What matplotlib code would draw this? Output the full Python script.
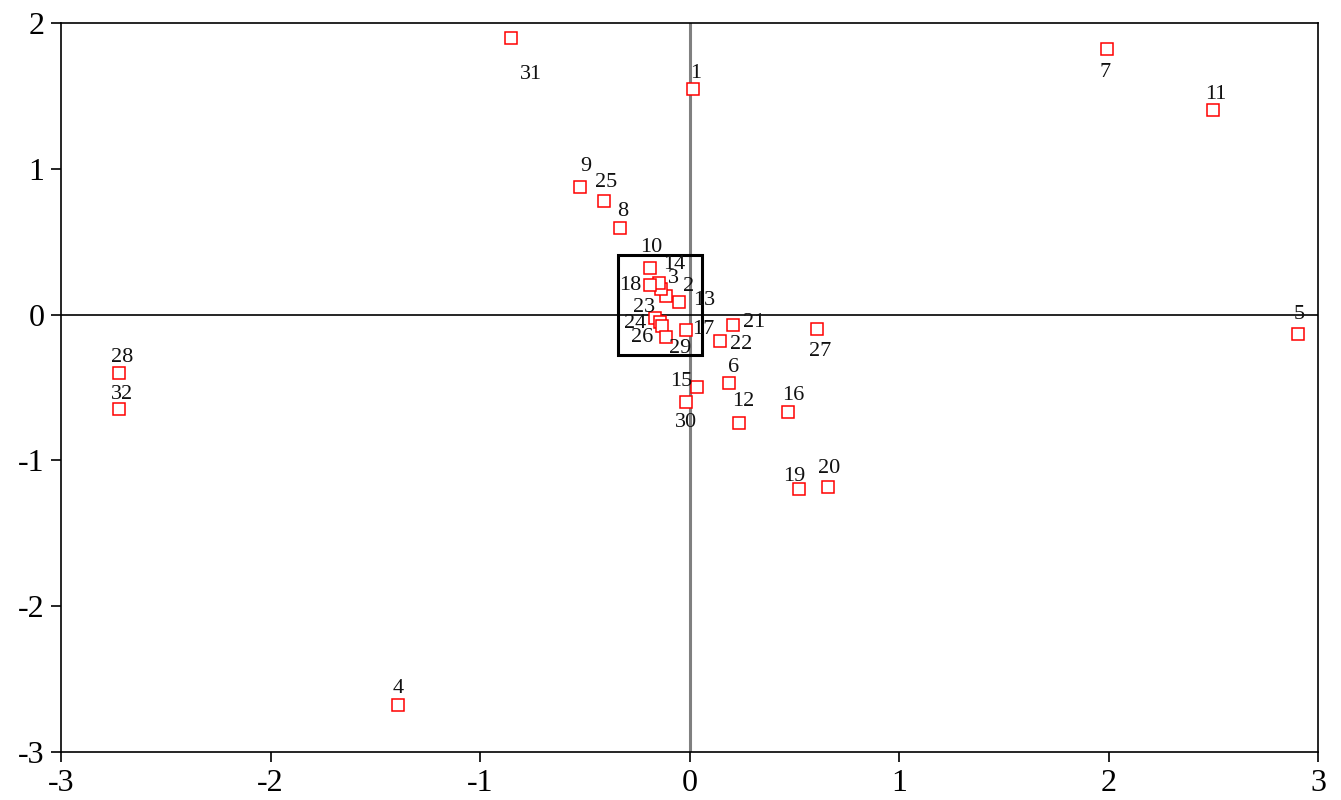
import matplotlib
matplotlib.use("Agg")
import matplotlib.pyplot as plt
from matplotlib.patches import Rectangle

# Data
labels = ["1", "2", "3", "4", "5", "6", "7", "8", "9", "10", "11", "12", "13", "14", "15", "16",
          "17", "18", "19", "20", "21", "22", "23", "24", "25", "26", "27", "28", "29", "30", "31", "32"]
x_vals = [0.019, -0.110, -0.134, -1.390, 2.905, 0.188, 1.992, -0.334, -0.521, -0.190, 2.499, 0.236,
          -0.051, -0.147, 0.037, 0.468, -0.019, -0.190, 0.522, 0.659, 0.207, 0.145, -0.166, -0.143,
          -0.406, -0.130, 0.610, -2.723, -0.110, -0.016, -0.850, -2.723]
y_vals = [1.550, 0.130, 0.176, -2.680, -0.130, -0.469, 1.824, 0.597, 0.878, 0.320, 1.406, -0.743,
          0.084, 0.217, -0.500, -0.670, -0.103, 0.200, -1.196, -1.182, -0.073, -0.183, -0.023, -0.053,
          0.782, -0.075, -0.100, -0.398, -0.154, -0.600, 1.900, -0.645]

# label offsets in pixels (dx right, dy down)
label_offsets = {
    "1": (2, -15), "2": (22, -9), "3": (12, -10), "4": (0, -17), "5": (1, -19), "6": (5, -15),
    "7": (-2, 24), "8": (3, -16), "9": (5, -20), "10": (2, -20), "11": (3, -15), "12": (4, -21),
    "13": (25, -2), "14": (16, -18), "15": (-16, -6), "16": (6, -17), "17": (18, 0), "18": (-19, 0),
    "19": (-5, -12), "20": (2, -18), "21": (21, -3), "22": (21, 3), "23": (-11, -10), "24": (-24, 1),
    "25": (2, -18), "26": (-20, 12), "27": (3, 22), "28": (3, -15), "29": (14, 11), "30": (0, 20),
    "31": (20, 37), "32": (3, -14),
}

x_ticks = [-3, -2, -1, 0, 1, 2, 3]
y_ticks = [-3, -2, -1, 0, 1, 2]

fig = plt.figure(figsize=(13.41, 8.0), dpi=100)
ax = fig.add_axes([61 / 1341, 48 / 800, (1318 - 61) / 1341, (752 - 23) / 800])

ax.set_xlim(-3, 3)
ax.set_ylim(-3, 2)

ax.axvline(0, color="#808080", lw=2.2, zorder=1)
ax.axhline(0, color="black", lw=1.2, zorder=1)

ax.add_patch(Rectangle((-0.339, -0.276), 0.399, 0.682, fill=False, edgecolor="black", lw=2.2, zorder=2))

ax.plot(x_vals, y_vals, linestyle="none", marker="s", markersize=8.5,
        markerfacecolor="white", markeredgecolor="red", markeredgewidth=1.1, zorder=3)

for lab, x, y in zip(labels, x_vals, y_vals):
    dx, dy = label_offsets[lab]
    ax.annotate(lab, (x, y), xytext=(dx, -dy), textcoords="offset pixels",
                ha="center", va="center", fontsize=16, family="Liberation Serif",
                color="#111111", zorder=4)

ax.set_xticks(x_ticks)
ax.set_yticks(y_ticks)
ax.set_xticklabels([str(t) for t in x_ticks], family="Liberation Serif", fontsize=23)
ax.set_yticklabels([str(t) for t in y_ticks], family="Liberation Serif", fontsize=23)
ax.tick_params(direction="out", length=7, width=1.2, pad=5)
for s in ax.spines.values():
    s.set_linewidth(1.2)

fig.savefig("out.png", dpi=100)
